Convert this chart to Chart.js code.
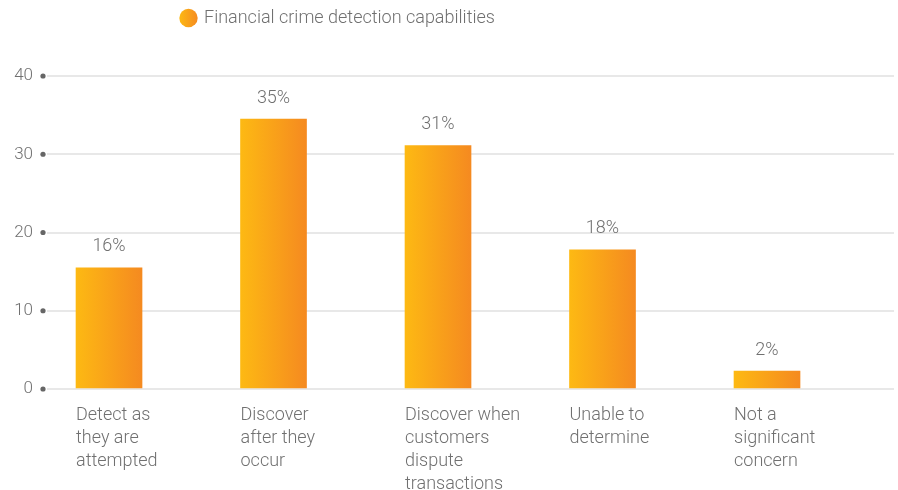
<!DOCTYPE html>
<html>
<head>
<meta charset="utf-8">
<script src="https://cdn.jsdelivr.net/npm/chart.js@4"></script>
<style>
  body { margin: 0; background: #fff; }
  #wrap { width: 898px; height: 490px; }
</style>
</head>
<body>
<div id="wrap"><canvas id="chart"></canvas></div>
<script>
const seriesName = "Financial crime detection capabilities"
const categories = [
  ["Detect as", "they are", "attempted"],
  ["Discover", "after they", "occur"],
  ["Discover when", "customers", "dispute", "transactions"],
  ["Unable to", "determine"],
  ["Not a", "significant", "concern"]
]
const values = [15.5, 34.5, 31.1, 17.8, 2.3]
const valueLabels = ["16%", "35%", "31%", "18%", "2%"]
const yTicks = [0, 10, 20, 30, 40]

const BAR_W = 66
const FONT = "Roboto, 'Liberation Sans', sans-serif"
const TEXT = "#707070"
const LEGEND_PAD = 48

function barGradient(ctx, left, right) {
  if (!isFinite(left) || !isFinite(right)) return "#f9a51a"
  const g = ctx.createLinearGradient(left, 0, right, 0)
  g.addColorStop(0, "#fdb913")
  g.addColorStop(1, "#f58a20")
  return g
}

const extras = {
  id: "extras",
  afterLayout(chart) {
    const lg = chart.legend
    const dx = (182 - LEGEND_PAD) - lg.left
    const dy = (9 - LEGEND_PAD) - lg.top
    lg.left += dx; lg.right += dx
    lg.top += dy; lg.bottom += dy
  },
  beforeDraw(chart) {
    const hb = chart.legend.legendHitBoxes[0]
    if (hb && chart.legend.legendItems[0]) {
      const cx = hb.left + 6.5
      chart.legend.legendItems[0].fillStyle = barGradient(chart.ctx, cx - 9.5, cx + 9.5)
    }
  },
  afterDatasetsDraw(chart) {
    const ctx = chart.ctx
    ctx.save()
    ctx.font = "300 18px " + FONT
    ctx.fillStyle = TEXT
    ctx.textAlign = "center"
    ctx.textBaseline = "middle"
    chart.getDatasetMeta(0).data.forEach((el, i) => {
      ctx.fillText(valueLabels[i], el.x, el.y - 21)
    })
    // round tick markers on the y axis
    const y = chart.scales.y
    ctx.fillStyle = "#666"
    y.ticks.forEach((t, i) => {
      ctx.beginPath()
      ctx.arc(chart.chartArea.left - 4, y.getPixelForTick(i), 2.6, 0, Math.PI * 2)
      ctx.fill()
    })
    ctx.restore()
  }
}

new Chart(document.getElementById("chart"), {
  type: "bar",
  data: {
    datasets: [{
      label: seriesName,
      data: values.map((v, i) => ({ x: i, y: v })),
      barThickness: BAR_W,
      borderWidth: 0,
      backgroundColor: (c) => {
        const x = c.chart.scales.x
        if (!x || c.dataIndex === undefined) return "#f9a51a"
        const px = x.getPixelForValue(c.dataIndex)
        return barGradient(c.chart.ctx, px - BAR_W / 2, px + BAR_W / 2)
      }
    }]
  },
  options: {
    responsive: true,
    maintainAspectRatio: false,
    animation: false,
    layout: { padding: { left: 14, right: 4, top: 0, bottom: 0 } },
    plugins: {
      legend: {
        align: "start",
        labels: {
          usePointStyle: true,
          boxWidth: 13,
          boxHeight: 13,
          padding: LEGEND_PAD,
          color: TEXT,
          font: { family: FONT, size: 18, weight: "300" }
        }
      },
      tooltip: { enabled: false }
    },
    scales: {
      x: {
        type: "linear",
        offset: false,
        min: -0.377,
        max: 4.772,
        grid: { display: false, drawTicks: false },
        border: { display: false },
        afterBuildTicks: (axis) => {
          axis.ticks = categories.map((c, i) => ({ value: i - BAR_W / 2 / 164.5 }))
        },
        afterFit: (axis) => { axis.height = 101 },
        ticks: {
          autoSkip: false,
          maxRotation: 0,
          align: "start",
          padding: 15,
          color: TEXT,
          font: { family: FONT, size: 18, weight: "300", lineHeight: "23px" },
          callback: (v, i) => categories[i]
        }
      },
      y: {
        min: 0,
        max: 40,
        afterBuildTicks: (axis) => {
          axis.ticks = yTicks.map(v => ({ value: v }))
        },
        afterFit: (axis) => { axis.width = 33 },
        grid: { color: "#e8e8e8", lineWidth: 2, drawTicks: false },
        border: { display: false },
        ticks: {
          padding: 14,
          color: TEXT,
          font: { family: FONT, size: 17, weight: "300" }
        }
      }
    }
  },
  plugins: [extras]
})
</script>
</body>
</html>
